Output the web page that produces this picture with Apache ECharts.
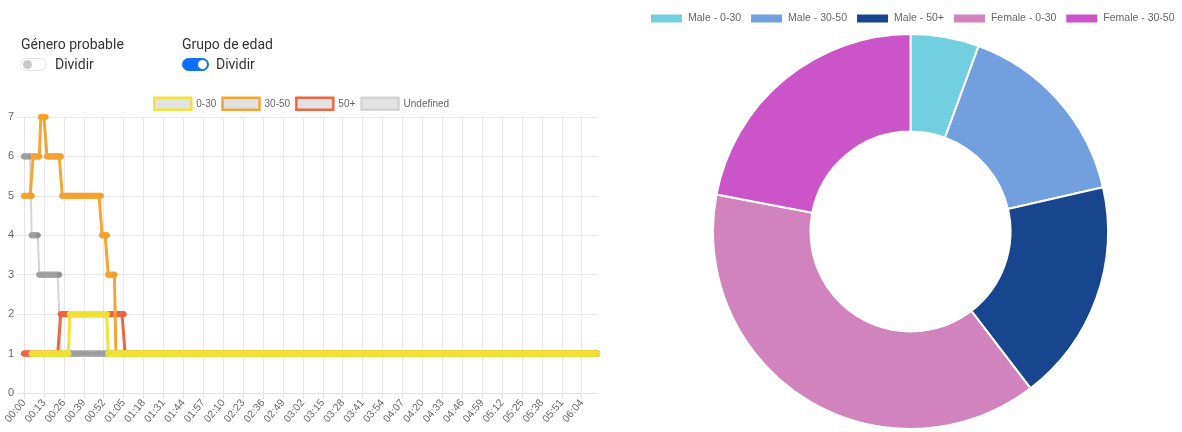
<!DOCTYPE html>
<html>
<head>
<meta charset="utf-8">
<script src="https://cdn.jsdelivr.net/npm/echarts@6/dist/echarts.min.js"></script>
<style>
  html, body { margin:0; padding:0; background:#fff; }
  #wrap { position:relative; width:1182px; height:432px; overflow:hidden; }
  #chart { position:absolute; left:0; top:0; width:1182px; height:432px; }
  .lbl { position:absolute; font-family: Roboto, "Liberation Sans", Arial, sans-serif; font-size:14px; color:#333; white-space:nowrap; line-height:16px; }
  .sw { position:absolute; width:27px; height:13px; border-radius:8px; box-sizing:border-box; }
  .sw .knob { position:absolute; width:9px; height:9px; border-radius:50%; }
</style>
</head>
<body>
<div id="wrap">
  <div id="chart"></div>
  <div class="lbl" style="left:21px; top:36px;">Género probable</div>
  <div class="sw" style="left:20px; top:57.5px; background:#fff; border:1px solid #e2e2e2;"><div class="knob" style="left:2px; top:1px; background:#c8c8c8;"></div></div>
  <div class="lbl" style="left:55px; top:56px;">Dividir</div>
  <div class="lbl" style="left:182px; top:36px;">Grupo de edad</div>
  <div class="sw" style="left:182px; top:57.5px; background:#0d6efd; border:1px solid #0d6efd;"><div class="knob" style="left:14.5px; top:1px; background:#fff;"></div></div>
  <div class="lbl" style="left:216px; top:56px;">Dividir</div>
</div>
<script>
// ---- data ----
// time categories: one per second, 00:00 .. 06:14
const totalSeconds = 375;
const timeLabels = [];
for (let s = 0; s < totalSeconds; s++) {
  const m = Math.floor(s / 60), sec = s % 60;
  timeLabels.push(String(m).padStart(2,'0') + ':' + String(sec).padStart(2,'0'));
}
const lineSeriesNames = ['0-30', '30-50', '50+', 'Undefined'];
// step runs: [value, number of seconds]
const runs0_30   = [[null,5],[1,25],[2,25],[1,320]];
const runs30_50  = [[5,6],[6,5],[7,4],[6,10],[5,26],[4,4],[3,5],[1,315]];
const runs50p    = [[1,24],[2,42],[1,309]];
const runsUndef  = [[6,5],[4,5],[3,14],[1,351]];
const yTicks = [0,1,2,3,4,5,6,7];

const pieNames  = ['Male - 0-30', 'Male - 30-50', 'Male - 50+', 'Female - 0-30', 'Female - 30-50'];
const pieValues = [5.6, 15.8, 18.2, 38.4, 22.0];

// ---- styling ----
const lineColors = ['#f1e33c', '#f4a534', '#ee6745', '#d4d4d4'];
const pointColors = ['#eedd2e', '#f2a02c', '#ea5f3c', '#8e8e8e'];
const pieColors = ['#72cfdf', '#729fdd', '#17468f', '#d183bd', '#cb55c8'];
const FONT = '"Liberation Sans", Arial, Helvetica, sans-serif';

function expand(runs) {
  const out = [];
  runs.forEach(r => { for (let i = 0; i < r[1]; i++) out.push(r[0]); });
  return out;
}
const lineData = [expand(runs0_30), expand(runs30_50), expand(runs50p), expand(runsUndef)];

const chart = echarts.init(document.getElementById('chart'), null, { renderer: 'canvas' });
const zOrder = [5, 4, 3, 2];

const option = {
  animation: false,
  legend: [
    {
      left: 153, top: 96.5, padding: 0,
      itemWidth: 37, itemHeight: 12, itemGap: 5,
      textStyle: { fontFamily: FONT, fontSize: 10, color: '#666' },
      data: lineSeriesNames.map((n, i) => ({
        name: n, icon: 'rect',
        itemStyle: { color: '#e2e2e2', borderColor: lineColors[i], borderWidth: 2.5 }
      })),
      selectedMode: false
    },
    {
      left: 649, top: 12.5, padding: 0, width: 560,
      itemWidth: 33, itemHeight: 10, itemGap: 8,
      textStyle: { fontFamily: FONT, fontSize: 10.5, color: '#666' },
      data: pieNames.map(n => ({ name: n, icon: 'rect' })),
      selectedMode: false
    }
  ],
  grid: { left: 24, right: 1182 - 597, top: 117, bottom: 432 - 393, containLabel: false },
  xAxis: {
    type: 'category',
    data: timeLabels,
    boundaryGap: false,
    axisLine: { show: true, lineStyle: { color: '#e3e3e3' } },
    axisTick: { show: true, interval: 12, length: 6, lineStyle: { color: '#e3e3e3' } },
    splitLine: { show: true, interval: 12, lineStyle: { color: '#e8e8e8' } },
    axisLabel: { interval: 12, rotate: 50, fontFamily: FONT, fontSize: 10.5, color: '#666', margin: 8 }
  },
  yAxis: {
    type: 'value',
    min: yTicks[0], max: yTicks[yTicks.length - 1], interval: 1,
    axisLine: { show: true, lineStyle: { color: '#e3e3e3' } },
    axisTick: { show: true, length: 7, lineStyle: { color: '#e8e8e8' } },
    splitLine: { show: true, lineStyle: { color: '#e8e8e8' } },
    axisLabel: { fontFamily: FONT, fontSize: 11, color: '#666', margin: 10 }
  },
  series: lineSeriesNames.map((n, i) => ({
    name: n,
    type: 'line',
    data: lineData[i],
    z: zOrder[i],
    showSymbol: true,
    showAllSymbol: true,
    symbol: 'circle',
    symbolSize: 5.5,
    connectNulls: false,
    lineStyle: { color: lineColors[i], width: i === 3 ? 2 : 3 },
    itemStyle: { color: pointColors[i], borderColor: i === 3 ? '#a8a8a8' : lineColors[i], borderWidth: 1 },
    emphasis: { disabled: true }
  })).concat([{
    type: 'pie',
    center: [910.5, 231.5],
    radius: [100, 197.5],
    startAngle: 90,
    clockwise: true,
    avoidLabelOverlap: false,
    label: { show: false },
    labelLine: { show: false },
    itemStyle: { borderColor: '#fff', borderWidth: 2 },
    emphasis: { disabled: true },
    data: pieNames.map((n, i) => ({ name: n, value: pieValues[i], itemStyle: { color: pieColors[i] } }))
  }])
};
chart.setOption(option);
</script>
</body>
</html>
